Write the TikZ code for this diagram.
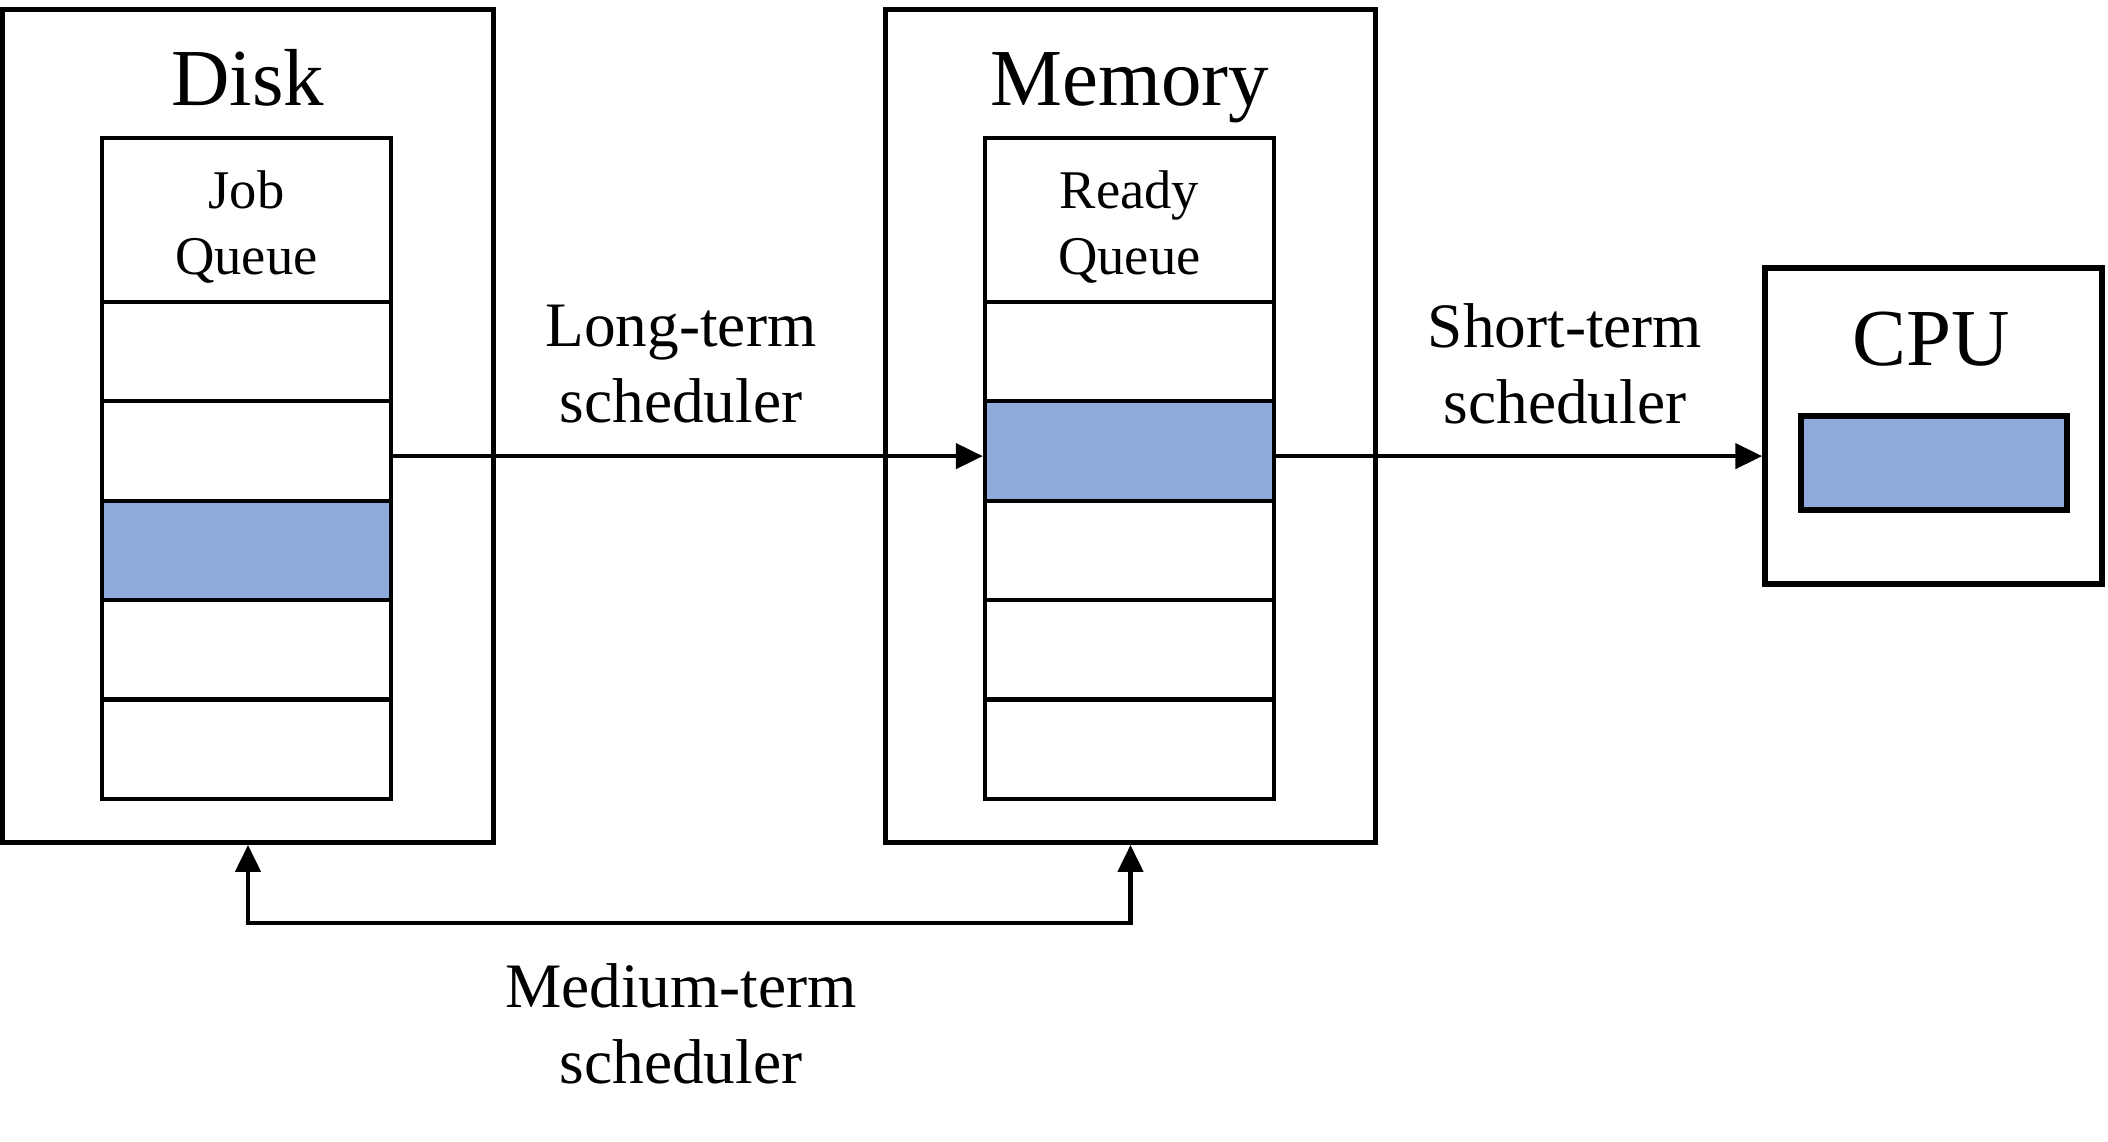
\documentclass[tikz,border=0pt]{standalone}
\usepackage{fontspec}
\setmainfont{Liberation Serif}
\usetikzlibrary{arrows.meta,positioning}
\definecolor{qblue}{HTML}{8FAADC}

\begin{document}
\begin{tikzpicture}[x=0.01cm, y=-0.01cm,
    >={Triangle[length=0.27cm, width=0.25cm]},
    box/.style={draw, line width=1.5pt, minimum width=4.9cm, minimum height=8.32cm, inner sep=0pt},
    cell/.style={draw, line width=1.2pt, minimum width=2.89cm, minimum height=0.994cm, inner sep=0pt},
    head/.style={cell, minimum height=1.64cm},
    qtext/.style={align=center, inner sep=0pt, font=\fontsize{15.5}{18.8}\selectfont},
    title/.style={anchor=base, inner sep=0pt, font=\fontsize{23}{27}\selectfont},
    sched/.style={align=center, inner sep=0pt, font=\fontsize{18}{21.6}\selectfont},
    link/.style={line width=1.3pt},
  ]
  \useasboundingbox (0,0) rectangle (2108,1141);

  % Disk, memory and CPU
  \node[box] (disk) at (248, 426) {};
  \node[box] (mem) at (1130.5, 426) {};
  \node[box, minimum width=3.37cm, minimum height=3.16cm] (cpu) at (1933.5, 426) {};

  \node[title] (disklabel) at (248, 105) {Disk};
  \node[title] (memlabel) at (1130, 105) {Memory};
  \node[title] (cpulabel) at (1931, 365) {CPU};

  \node[draw, line width=1.6pt, fill=qblue, minimum width=2.66cm, minimum height=0.94cm] (cpuslot) at (1934, 463) {};

  % Queues
  \node[head] (dq) at (246.5, 220) {};
  \node[head] (mq) at (1129.5, 220) {};
  \node[qtext] (jobq) at (246.5, 227) {Job\\Queue};
  \node[qtext] (readyq) at (1129.5, 227) {Ready\\Queue};
  \foreach \i/\c in {1/white, 2/white, 3/qblue, 4/white, 5/white}
    \node[cell, fill=\c] (d\i) at (246.5, {302+99.4*(\i-0.5)}) {};
  \foreach \i/\c in {1/white, 2/qblue, 3/white, 4/white, 5/white}
    \node[cell, fill=\c] (m\i) at (1129.5, {302+99.4*(\i-0.5)}) {};

  % Schedulers
  \draw[link, ->] ([yshift=-0.05cm]d2.east) -- ([yshift=-0.05cm]m2.west);
  \draw[link, ->] ([yshift=-0.05cm]m2.east) -- ([yshift=-0.05cm]m2.east -| cpu.west);
  \draw[link, <->] (disk.south) -- ++(0, 78) -| (mem.south);

  \node[sched] (longlbl) at (681, 364) {Long-term\\scheduler};
  \node[sched] (shortlbl) at (1565, 364) {Short-term\\scheduler};
  \node[sched] (medlbl) at (681, 1024) {Medium-term\\scheduler};
\end{tikzpicture}
\end{document}
